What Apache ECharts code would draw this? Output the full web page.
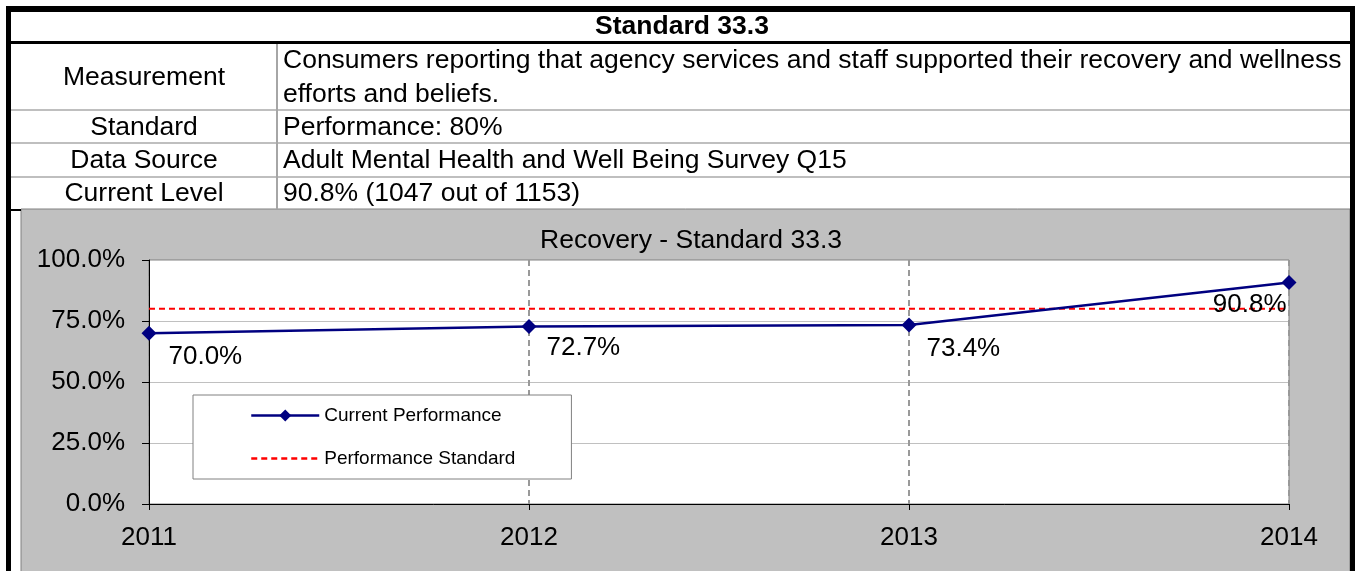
<!DOCTYPE html>
<html>
<head>
<meta charset="utf-8">
<title>Recovery - Standard 33.3</title>
<script src="https://cdn.jsdelivr.net/npm/echarts@6/dist/echarts.min.js"></script>
<style>
  html, body { margin: 0; padding: 0; background: #ffffff; }
  #chart { width: 1357px; height: 571px; }
</style>
</head>
<body>
<div id="chart"></div>
<script>
// Header table content
const headerTitle = 'Standard 33.3';
const rowLabels = ['Measurement', 'Standard', 'Data Source', 'Current Level'];
const rowValues = [
  ['Consumers reporting that agency services and staff supported their recovery and wellness', 'efforts and beliefs.'],
  ['Performance: 80%'],
  ['Adult Mental Health and Well Being Survey Q15'],
  ['90.8% (1047 out of 1153)']
];

// Chart data
const chartTitle = 'Recovery - Standard 33.3';
const years = ['2011', '2012', '2013', '2014'];
const currentPerformance = [70.0, 72.7, 73.4, 90.8];
const performanceStandard = [80, 80, 80, 80];
const yTicks = [0, 25, 50, 75, 100];

const FONT = '"Liberation Sans", Arial, sans-serif';

// Table geometry (pixels)
const rowTops = [44, 110, 143, 177, 208];
const labelCenterX = 144;
const valueLeftX = 283;
const dividerX = 277;

const graphics = [];

// Chart panel background
graphics.push({
  type: 'rect', z: -10, silent: true,
  shape: { x: 21, y: 209, width: 1329, height: 380 },
  style: { fill: '#c0c0c0', stroke: '#808080', lineWidth: 1 }
});

// Outer borders
graphics.push({ type: 'rect', z: 5, silent: true, shape: { x: 6, y: 6, width: 1349, height: 6 }, style: { fill: '#000' } });
graphics.push({ type: 'rect', z: 5, silent: true, shape: { x: 6, y: 6, width: 5, height: 565 }, style: { fill: '#000' } });
graphics.push({ type: 'rect', z: 5, silent: true, shape: { x: 1350, y: 6, width: 5, height: 565 }, style: { fill: '#000' } });
graphics.push({ type: 'rect', z: 5, silent: true, shape: { x: 11, y: 41, width: 1339, height: 3 }, style: { fill: '#000' } });
graphics.push({ type: 'rect', z: 5, silent: true, shape: { x: 11, y: 209, width: 10, height: 2 }, style: { fill: '#000' } });

// Row separators and column divider
[110, 143, 177].forEach(function (y) {
  graphics.push({ type: 'line', silent: true, shape: { x1: 11, y1: y, x2: 1350, y2: y }, style: { stroke: '#bfbfbf', lineWidth: 2 } });
});
graphics.push({ type: 'line', silent: true, shape: { x1: dividerX, y1: 44, x2: dividerX, y2: 209 }, style: { stroke: '#a6a6a6', lineWidth: 2 } });

// Header title
graphics.push({
  type: 'text', silent: true,
  style: { x: 682, y: 27, text: headerTitle, fill: '#000', font: 'bold 26.5px ' + FONT, textAlign: 'center', textVerticalAlign: 'middle' }
});

// Row labels and values
rowLabels.forEach(function (label, i) {
  const top = rowTops[i], bottom = rowTops[i + 1];
  const mid = (top + bottom) / 2 + 1;
  graphics.push({
    type: 'text', silent: true,
    style: { x: labelCenterX, y: mid, text: label, fill: '#000', font: '26.5px ' + FONT, textAlign: 'center', textVerticalAlign: 'middle' }
  });
  const lines = rowValues[i];
  const lh = 34;
  lines.forEach(function (line, j) {
    const y = mid - (lines.length - 1) * lh / 2 + j * lh;
    graphics.push({
      type: 'text', silent: true,
      style: { x: valueLeftX, y: y, text: line, fill: '#000', font: '26.5px ' + FONT, textAlign: 'left', textVerticalAlign: 'middle' }
    });
  });
});

// Chart title
graphics.push({
  type: 'text', silent: true,
  style: { x: 691, y: 241, text: chartTitle, fill: '#000', font: '26.5px ' + FONT, textAlign: 'center', textVerticalAlign: 'middle' }
});

const chart = echarts.init(document.getElementById('chart'), null, { renderer: 'canvas' });

// Label placement per point: below-right, last one tucked left of the point
const labelOffsets = [
  { position: 'right', offset: [7, 24] },
  { position: 'right', offset: [5, 21] },
  { position: 'right', offset: [5, 24] },
  { position: 'left', offset: [10, 22] }
];

const option = {
  backgroundColor: '#ffffff',
  animation: false,
  textStyle: { fontFamily: FONT },
  graphic: graphics,
  grid: {
    left: 149, right: 68, top: 260, bottom: 67,
    show: true, backgroundColor: '#ffffff', borderColor: '#808080', borderWidth: 1
  },
  legend: {
    left: 193, top: 395,
    orient: 'vertical',
    backgroundColor: '#ffffff',
    borderColor: '#808080', borderWidth: 1,
    padding: [10, 56, 10, 57],
    itemWidth: 68, itemHeight: 15, itemGap: 22,
    textStyle: { fontSize: 19, color: '#000', fontFamily: FONT, lineHeight: 21 },
    data: [
      { name: 'Current Performance', lineStyle: { width: 2.5 } },
      { name: 'Performance Standard', itemStyle: { opacity: 0 }, lineStyle: { width: 2.5 } }
    ]
  },
  xAxis: {
    type: 'category',
    data: years,
    boundaryGap: false,
    axisLine: { lineStyle: { color: '#000', width: 1 } },
    axisTick: { show: true, length: 6, lineStyle: { color: '#000' } },
    axisLabel: { color: '#000', fontSize: 26, fontFamily: FONT, margin: 21 },
    splitLine: { show: true, lineStyle: { color: '#999999', type: [6, 4], width: 2 } }
  },
  yAxis: {
    type: 'value',
    min: yTicks[0], max: yTicks[yTicks.length - 1], interval: yTicks[1] - yTicks[0],
    axisLine: { show: true, lineStyle: { color: '#000', width: 1 } },
    axisTick: { show: true, length: 7, lineStyle: { color: '#000' } },
    axisLabel: { color: '#000', fontSize: 26, fontFamily: FONT, margin: 24, formatter: function (v) { return v.toFixed(1) + '%'; } },
    splitLine: { show: true, lineStyle: { color: '#c0c0c0', width: 1 } }
  },
  series: [
    {
      name: 'Performance Standard',
      type: 'line',
      data: performanceStandard,
      symbol: 'none',
      lineStyle: { color: '#ff0000', width: 2, type: [6, 4] },
      itemStyle: { color: '#ff0000' },
      z: 3
    },
    {
      name: 'Current Performance',
      type: 'line',
      data: currentPerformance.map(function (v, i) {
        return {
          value: v,
          label: {
            show: true,
            position: labelOffsets[i].position,
            offset: labelOffsets[i].offset,
            formatter: function (p) { return p.value.toFixed(1) + '%'; },
            fontSize: 26, color: '#000', fontFamily: FONT
          }
        };
      }),
      symbol: 'diamond',
      symbolSize: 15,
      lineStyle: { color: '#000080', width: 2.5 },
      itemStyle: { color: '#000080' },
      z: 4
    }
  ]
};

chart.setOption(option);
</script>
</body>
</html>
